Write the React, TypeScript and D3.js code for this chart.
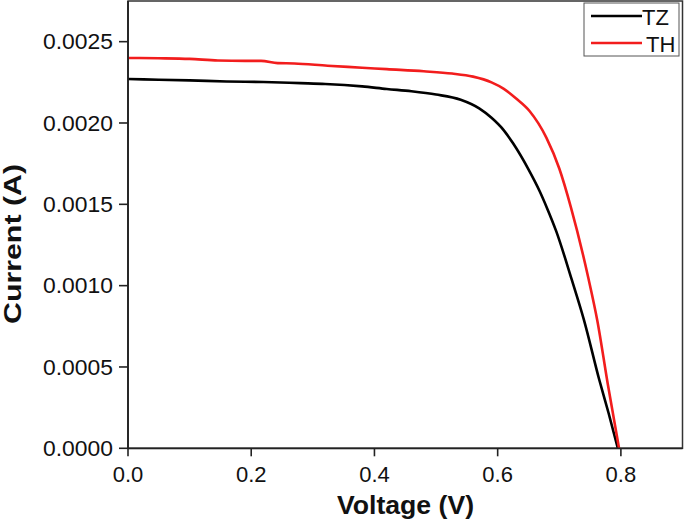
import React from "react";
import * as d3 from "d3";

const tzVoltage = [0.0, 0.05, 0.1, 0.16, 0.22, 0.28, 0.32, 0.38, 0.42, 0.46, 0.5, 0.54, 0.57, 0.59, 0.61, 0.625, 0.65, 0.668, 0.68, 0.695, 0.72, 0.74, 0.765, 0.78, 0.795];
const tzCurrent = [0.00227, 0.002266, 0.002262, 0.002255, 0.002252, 0.002245, 0.00224, 0.002225, 0.002209, 0.002195, 0.002175, 0.002143, 0.00209, 0.002032, 0.001955, 0.001875, 0.001715, 0.001582, 0.001478, 0.001335, 0.00104, 0.00079, 0.00042, 0.000217, 0.0];

const thVoltage = [0.0, 0.05, 0.1, 0.146, 0.19, 0.216, 0.243, 0.27, 0.324, 0.38, 0.42, 0.48, 0.526, 0.56, 0.59, 0.61, 0.63, 0.652, 0.679, 0.7, 0.719, 0.747, 0.762, 0.7785, 0.797];
const thCurrent = [0.0024, 0.002398, 0.002394, 0.002384, 0.002382, 0.002382, 0.002368, 0.002366, 0.002352, 0.00234, 0.002331, 0.002318, 0.002304, 0.002285, 0.00225, 0.00221, 0.00215, 0.002072, 0.00191, 0.00172, 0.00148, 0.00105, 0.00078, 0.0004, 0.0];

const xTicks = [0.0, 0.2, 0.4, 0.6, 0.8];
const yTicks = [0.0, 0.0005, 0.001, 0.0015, 0.002, 0.0025];

const seriesNames = ["TZ", "TH"];
const seriesColors = ["#000000", "#f21d1d"];

const FONT = "'Liberation Sans', Arial, sans-serif";

export default function App() {
  const left = 128, right = 682.5, top = 1, bottom = 448.3;
  const x = d3.scaleLinear().domain([0, 0.9]).range([left, right]);
  const y = d3.scaleLinear().domain([0, 0.00275]).range([bottom, top]);
  const line = d3
    .line<[number, number]>()
    .x((d) => x(d[0]))
    .y((d) => y(d[1]))
    .curve(d3.curveMonotoneX);
  const tz = tzVoltage.map((v, i) => [v, tzCurrent[i]] as [number, number]);
  const th = thVoltage.map((v, i) => [v, thCurrent[i]] as [number, number]);

  return (
    <svg
      width={685}
      height={525}
      style={{ position: "absolute", left: 0, top: 0, background: "#fff" }}
      fontFamily={FONT}
    >
      <rect x={0} y={0} width={685} height={525} fill="#fff" />
      {/* frame */}
      <rect x={left} y={top} width={right - left} height={bottom - top} fill="none" stroke="#333" strokeWidth={1.5} />
      {/* curves */}
      <path d={line(tz) || ""} fill="none" stroke={seriesColors[0]} strokeWidth={2.6} strokeLinejoin="round" />
      <path d={line(th) || ""} fill="none" stroke={seriesColors[1]} strokeWidth={2.6} strokeLinejoin="round" />
      {/* axes lines */}
      <line x1={left} y1={top} x2={left} y2={bottom} stroke="#222" strokeWidth={1.8} />
      <line x1={left} y1={bottom} x2={right} y2={bottom} stroke="#222" strokeWidth={1.8} />
      {/* x ticks */}
      {xTicks.map((t) => (
        <g key={"x" + t}>
          <line x1={x(t)} x2={x(t)} y1={bottom} y2={bottom + 8} stroke="#222" strokeWidth={1.6} />
          <text x={x(t)} y={482} textAnchor="middle" fontSize={22} fill="#111">
            {t.toFixed(1)}
          </text>
        </g>
      ))}
      {/* y ticks */}
      {yTicks.map((t) => (
        <g key={"y" + t}>
          <line x1={left - 9} x2={left} y1={y(t)} y2={y(t)} stroke="#222" strokeWidth={1.6} />
          <text x={113} y={y(t) + 7.8} textAnchor="end" fontSize={22} fill="#111" textLength={70} lengthAdjust="spacingAndGlyphs">
            {t.toFixed(4)}
          </text>
        </g>
      ))}
      {/* axis titles */}
      <text x={405.5} y={514} textAnchor="middle" fontSize={25} fontWeight="bold" fill="#111" textLength={137} lengthAdjust="spacingAndGlyphs">
        Voltage (V)
      </text>
      <text
        transform="translate(21,244) rotate(-90)"
        textAnchor="middle"
        fontSize={24}
        fontWeight="bold"
        fill="#111"
        textLength={160}
        lengthAdjust="spacingAndGlyphs"
      >
        Current (A)
      </text>
      {/* legend */}
      <rect x={584} y={3} width={95} height={53} fill="#fff" stroke="#555" strokeWidth={1} />
      {seriesNames.map((n, i) => (
        <g key={n}>
          <line x1={591} x2={642} y1={16 + i * 27} y2={16 + i * 27} stroke={seriesColors[i]} strokeWidth={2.6} />
          <text x={i === 0 ? 642 : 646} y={25 + i * 26.7} fontSize={22} fill="#111">
            {n}
          </text>
        </g>
      ))}
    </svg>
  );
}
